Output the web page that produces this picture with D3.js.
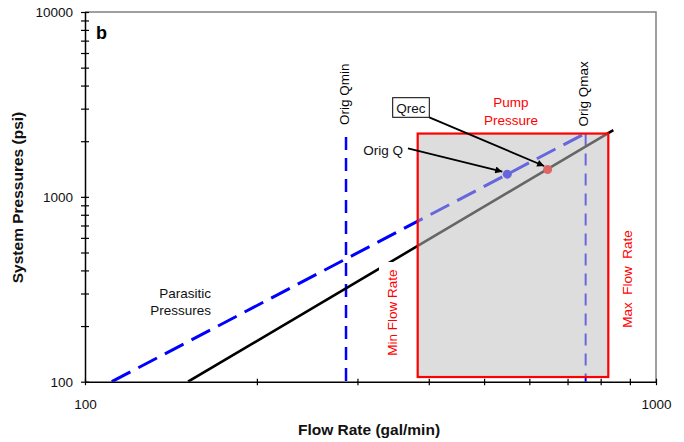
<!DOCTYPE html>
<html><head><meta charset="utf-8">
<script src="https://cdn.jsdelivr.net/npm/d3@7"></script>
<style>body{margin:0;background:#fff}text{font-family:"Liberation Sans",Arial,sans-serif}</style>
</head><body>
<svg id="chart" width="684" height="442"></svg>
<script>
// ---- data ----
const parasiticFlow = [111.4, 753];
const parasiticPressure = [100, 2210];
const systemFlow = [151.5, 842];
const systemPressure = [100, 2294];
const origQminFlow = [286.5, 286.5];
const origQminPressure = [2110, 100];
const origQmaxFlow = [753, 753];
const origQmaxPressure = [2200, 100];
const pumpBoxFlow = [382.5, 825];
const pumpBoxPressure = [106, 2200];
const pointNames = ["Orig Q", "Qrec"];
const pointFlow = [549, 646];
const pointPressure = [1327, 1406];
const pointColors = ["#0000FF", "#FF0000"];
const xTickValues = [100,200,300,400,500,600,700,800,900,1000];
const xTickLabels = ["100","1000"];
const yTickValues = [100,200,300,400,500,600,700,800,900,1000,2000,3000,4000,5000,6000,7000,8000,9000,10000];
const yTickLabels = ["100","1000","10000"];

// ---- layout ----
const W = 684, H = 442;
const L = 85, R = 656, T = 12, B = 381.7;
const svg = d3.select("#chart");
svg.append("rect").attr("width", W).attr("height", H).attr("fill", "#fff");

const x = d3.scaleLog().domain([100, 1000]).range([L, R]);
const y = d3.scaleLog().domain([100, 10000]).range([B, T]);

const defs = svg.append("defs");
defs.append("clipPath").attr("id", "plotclip").append("rect")
  .attr("x", L).attr("y", T).attr("width", R - L).attr("height", B - T);
defs.append("marker").attr("id", "arrow").attr("viewBox", "0 0 10 10")
  .attr("refX", 10).attr("refY", 5).attr("markerWidth", 9).attr("markerHeight", 7)
  .attr("markerUnits", "userSpaceOnUse").attr("orient", "auto")
  .append("path").attr("d", "M0,0 L10,5 L0,10 Z").attr("fill", "#000");

const plot = svg.append("g").attr("clip-path", "url(#plotclip)");
const line = d3.line().x(d => x(d[0])).y(d => y(d[1]));
const zip = (a, b) => a.map((v, i) => [v, b[i]]);

// Orig Qmin vertical
plot.append("path").attr("d", line(zip(origQminFlow, origQminPressure)))
  .attr("stroke", "#0000FF").attr("stroke-width", 2.5).attr("fill", "none")
  .attr("stroke-dasharray", "13,8");
// Orig Qmax vertical
plot.append("path").attr("d", line(zip(origQmaxFlow, origQmaxPressure)))
  .attr("stroke", "#0000FF").attr("stroke-width", 2).attr("fill", "none")
  .attr("stroke-dasharray", "12,8");
// parasitic pressures
plot.append("path").attr("d", line(zip(parasiticFlow, parasiticPressure)))
  .attr("stroke", "#0000FF").attr("stroke-width", 3).attr("fill", "none")
  .attr("stroke-dasharray", "21,9");
// system line
plot.append("path").attr("d", line(zip(systemFlow, systemPressure)))
  .attr("stroke", "#000").attr("stroke-width", 2.6).attr("fill", "none");
// points
plot.selectAll("circle.pt").data(pointNames).join("circle").attr("class", "pt")
  .attr("cx", (d, i) => x(pointFlow[i])).attr("cy", (d, i) => y(pointPressure[i]))
  .attr("r", 4.5).attr("fill", (d, i) => pointColors[i]);

// white background of the "Min Flow Rate" label (occludes the line)
svg.append("rect").attr("x", 379).attr("y", 262).attr("width", 22).attr("height", 100).attr("fill", "#fff");

// pump pressure box (translucent grey overlay + red frame)
const bx0 = x(pumpBoxFlow[0]), bx1 = x(pumpBoxFlow[1]);
const by0 = y(pumpBoxPressure[1]), by1 = y(pumpBoxPressure[0]);
svg.append("rect").attr("x", bx0).attr("y", by0).attr("width", bx1 - bx0).attr("height", by1 - by0)
  .attr("fill", "rgb(191,191,191)").attr("fill-opacity", 0.533)
  .attr("stroke", "#FF0000").attr("stroke-width", 2.2);

// frame (top/right gray)
svg.append("path").attr("d", `M${L},${T} H${R} V${B}`).attr("fill", "none")
  .attr("stroke", "#808080").attr("stroke-width", 1.5);

// axes
const fs = "13.5px";
const yAxis = d3.axisLeft(y).tickValues(yTickValues).tickSize(4).tickSizeOuter(0).tickPadding(8)
  .tickFormat(d => yTickLabels.includes(String(d)) ? String(d) : "");
const gy = svg.append("g").attr("transform", `translate(${L},0)`).call(yAxis);
gy.selectAll(".tick line").attr("x2", -4).attr("x1", 4);
const xAxis = d3.axisBottom(x).tickValues(xTickValues).tickSize(3).tickSizeOuter(0).tickPadding(15)
  .tickFormat(d => xTickLabels.includes(String(d)) ? String(d) : "");
const gx = svg.append("g").attr("transform", `translate(0,${B})`).call(xAxis);
gx.selectAll(".tick line").attr("y1", -3).attr("y2", 3.5);
[gx, gy].forEach(g => {
  g.select(".domain").attr("stroke", "#000").attr("stroke-width", 1.5);
  g.selectAll(".tick line").attr("stroke", "#000").attr("stroke-width", 1.2);
  g.selectAll(".tick text").attr("font-size", fs).attr("fill", "#111")
    .attr("font-family", '"Liberation Sans",Arial,sans-serif');
});

// axis titles
svg.append("text").attr("x", 369).attr("y", 435).attr("text-anchor", "middle")
  .attr("font-size", "15.5px").attr("font-weight", "bold").attr("fill", "#111").text("Flow Rate (gal/min)");
svg.append("text").attr("transform", "translate(23,197.5) rotate(-90)").attr("text-anchor", "middle")
  .attr("font-size", "15.5px").attr("font-weight", "bold").attr("fill", "#111").text("System Pressures (psi)");
svg.append("text").attr("x", 96).attr("y", 39).attr("font-size", "18px").attr("font-weight", "bold")
  .attr("fill", "#000").text("b");

// vertical labels
function vtext(cx, cy, txt, color) {
  svg.append("text").attr("transform", `translate(${cx},${cy}) rotate(-90)`).attr("text-anchor", "middle")
    .attr("font-size", fs).attr("fill", color).text(txt);
}
vtext(348.9, 94.2, "Orig Qmin", "#000");
vtext(588, 93.8, "Orig Qmax", "#000");
vtext(396.7, 312.5, "Min Flow Rate", "#FF0000");
svg.append("text").attr("transform", "translate(631.7,279) rotate(-90)").attr("text-anchor", "middle")
  .attr("font-size", fs).attr("fill", "#FF0000").attr("xml:space", "preserve")
  .style("white-space", "pre").text("Max  Flow  Rate");

// Pump Pressure
svg.append("text").attr("x", 511).attr("y", 106.5).attr("text-anchor", "middle").attr("font-size", fs)
  .attr("fill", "#FF0000").text("Pump");
svg.append("text").attr("x", 511).attr("y", 125).attr("text-anchor", "middle").attr("font-size", fs)
  .attr("fill", "#FF0000").text("Pressure");
// Parasitic Pressures
svg.append("text").attr("x", 211).attr("y", 298.3).attr("text-anchor", "end").attr("font-size", fs)
  .attr("fill", "#111").text("Parasitic");
svg.append("text").attr("x", 211).attr("y", 315).attr("text-anchor", "end").attr("font-size", fs)
  .attr("fill", "#111").text("Pressures");

// Orig Q annotation
svg.append("text").attr("x", 363.3).attr("y", 155.3).attr("font-size", fs).attr("fill", "#111").text("Orig Q");
const oqx = x(pointFlow[0]), oqy = y(pointPressure[0]);
svg.append("line").attr("x1", 408).attr("y1", 148.3).attr("x2", oqx - 5).attr("y2", oqy - 2.5)
  .attr("stroke", "#000").attr("stroke-width", 1.8).attr("marker-end", "url(#arrow)");
// Qrec annotation
svg.append("rect").attr("x", 392.7).attr("y", 97.7).attr("width", 36.6).attr("height", 19.6)
  .attr("fill", "#fff").attr("stroke", "#000").attr("stroke-width", 1);
svg.append("text").attr("x", 411).attr("y", 112.5).attr("text-anchor", "middle").attr("font-size", fs)
  .attr("fill", "#111").text("Qrec");
const qrx = x(pointFlow[1]), qry = y(pointPressure[1]);
svg.append("line").attr("x1", 429.3).attr("y1", 117.3).attr("x2", qrx - 3.5).attr("y2", qry - 3.5)
  .attr("stroke", "#000").attr("stroke-width", 1.8).attr("marker-end", "url(#arrow)");
</script>
</body></html>
